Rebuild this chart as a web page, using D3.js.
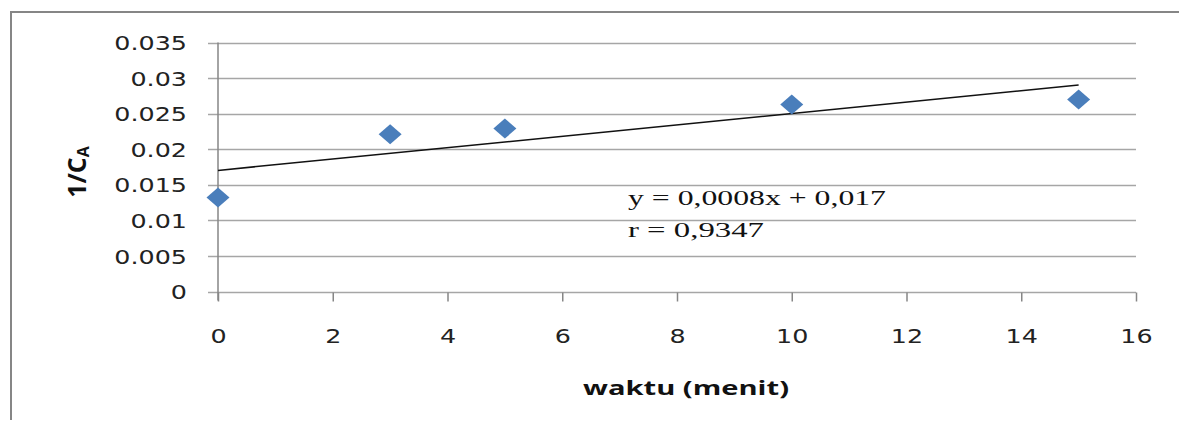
<!DOCTYPE html>
<html>
<head>
<meta charset="utf-8">
<script src="https://cdn.jsdelivr.net/npm/d3@7"></script>
<style>
  html, body { margin: 0; padding: 0; background: #fff; }
  svg { display: block; }
</style>
</head>
<body>
<svg id="app" width="1179" height="428"></svg>
<script>
// data
const waktu = [0, 3, 5, 10, 15];
const invCA = [0.0132, 0.0221, 0.0229, 0.0263, 0.0270];
const xTicks = [0, 2, 4, 6, 8, 10, 12, 14, 16];
const yTicks = [0, 0.005, 0.01, 0.015, 0.02, 0.025, 0.03, 0.035];
const eqLines = ['y = 0,0008x + 0,017', 'r = 0,9347'];

const gridColor = '#a6a6a6';
const axisColor = '#868686';
const pointColor = '#4a7ebb';
const stretchK = 1.27; // the picture is stretched wide

let svg = d3.select('#app')

// frame (only top and left edges visible)
svg.append('path')
  .attr('d', 'M11,420 L11,12 L1179,12')
  .attr('fill', 'none')
  .attr('stroke', axisColor)
  .attr('stroke-width', 2)

const x = d3.scaleLinear().domain([0, 16]).range([218, 1136])
const y = d3.scaleLinear().domain([0, 0.035]).range([291.5, 42.5])

function stretch(sel, k) {
  sel.each(function () {
    const w = this.getComputedTextLength()
    this.setAttribute('textLength', w * k)
    this.setAttribute('lengthAdjust', 'spacingAndGlyphs')
  })
}

// horizontal gridlines + y ticks
let grid = svg.append('g')
grid.selectAll('line')
  .data(yTicks)
  .enter()
  .append('line')
  .attr('x1', 208)
  .attr('x2', x(16))
  .attr('y1', d => Math.round(y(d)) + 0.5)
  .attr('y2', d => Math.round(y(d)) + 0.5)
  .attr('stroke', gridColor)
  .attr('stroke-width', 1.5)

// y axis
let yAxis = svg.append('g')
  .attr('transform', `translate(${x(0)},0)`)
  .call(d3.axisLeft(y).tickValues(yTicks).tickSize(0).tickPadding(31)
    .tickFormat(d => d === 0 ? '0' : String(+d.toFixed(3))))
yAxis.select('.domain').attr('stroke', axisColor).attr('stroke-width', 1.5)
  .attr('d', `M0,${y(0.035)}V${y(0) + 9}`)
yAxis.selectAll('text')
  .attr('font-family', 'DejaVu Sans')
  .attr('font-size', 20)
  .attr('fill', '#222')
  .attr('dy', '0.36em')
  .call(stretch, stretchK)

// x axis
let xAxis = svg.append('g')
  .attr('transform', `translate(0,${Math.round(y(0)) + 0.5})`)
  .call(d3.axisBottom(x).tickValues(xTicks).tickSize(9).tickPadding(27))
xAxis.select('.domain').remove()
xAxis.selectAll('.tick line').attr('stroke', axisColor).attr('stroke-width', 1.5)
xAxis.selectAll('text')
  .attr('font-family', 'DejaVu Sans')
  .attr('font-size', 20)
  .attr('fill', '#222')
  .call(stretch, stretchK)

// trendline from least squares fit of the points
const mx = d3.mean(waktu), my = d3.mean(invCA)
const slope = d3.sum(waktu, (v, i) => (v - mx) * (invCA[i] - my)) / d3.sum(waktu, v => (v - mx) ** 2)
const icpt = my - slope * mx
const xMax = d3.max(waktu)
svg.append('line')
  .attr('x1', x(0)).attr('y1', y(icpt))
  .attr('x2', x(xMax)).attr('y2', y(icpt + slope * xMax))
  .attr('stroke', '#111')
  .attr('stroke-width', 1.5)

// diamond markers
svg.append('g').selectAll('path')
  .data(waktu.map((v, i) => [v, invCA[i]]))
  .enter()
  .append('path')
  .attr('d', 'M0,-10L11.5,0L0,10L-11.5,0Z')
  .attr('transform', d => `translate(${x(d[0])},${y(d[1])})`)
  .attr('fill', pointColor)

// equation text
svg.append('g').selectAll('text')
  .data(eqLines)
  .enter()
  .append('text')
  .attr('x', 628)
  .attr('y', (d, i) => 205 + i * 32)
  .attr('font-family', 'Liberation Serif')
  .attr('font-size', 20)
  .attr('fill', '#111')
  .attr('textLength', (d, i) => i === 0 ? 258 : 136)
  .attr('lengthAdjust', 'spacingAndGlyphs')
  .text(d => d)

// axis titles
svg.append('text')
  .attr('x', 686)
  .attr('y', 395)
  .attr('text-anchor', 'middle')
  .attr('font-family', 'Open Sans')
  .attr('font-weight', 'bold')
  .attr('font-size', 20)
  .attr('fill', '#111')
  .attr('textLength', 206)
  .attr('lengthAdjust', 'spacingAndGlyphs')
  .text('waktu (menit)')

let yTitle = svg.append('text')
  .attr('transform', 'translate(86,172) rotate(-90)')
  .attr('text-anchor', 'middle')
  .attr('font-family', 'Open Sans')
  .attr('font-weight', 'bold')
  .attr('font-size', 25)
  .attr('fill', '#111')
yTitle.append('tspan').text('1/C')
yTitle.append('tspan').attr('font-size', 16).attr('dy', 3).text('A')
</script>
</body>
</html>
